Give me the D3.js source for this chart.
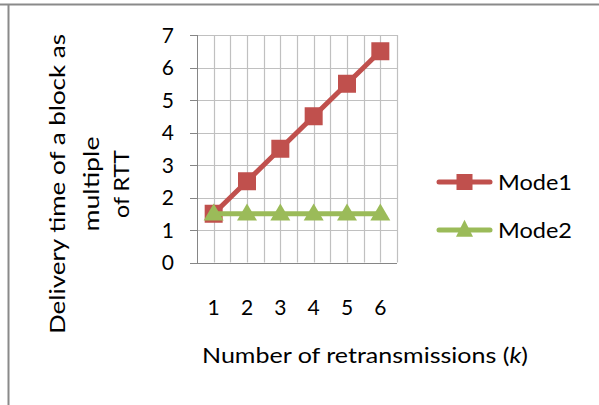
<!DOCTYPE html>
<html><head><meta charset="utf-8">
<script src="https://cdn.jsdelivr.net/npm/d3@7"></script>
<style>html,body{margin:0;padding:0;background:#fff;}svg{display:block;font-family:Lato,"Open Sans",sans-serif;}</style>
</head><body>
<script>
const categories = ["1","2","3","4","5","6"];
const mode1 = [1.5, 2.5, 3.5, 4.5, 5.5, 6.5];
const mode2 = [1.5, 1.5, 1.5, 1.5, 1.5, 1.5];
const yTicks = [0,1,2,3,4,5,6,7];
const seriesNames = ["Mode1","Mode2"];
const yTitleLines = ["Delivery time of a block as","multiple","of RTT"];

const W = 599, H = 405;
const svg = d3.select("body").append("svg").attr("width", W).attr("height", H);

// outer frame (top + left edges visible)
svg.append("line").attr("x1",0).attr("x2",W).attr("y1",4.5).attr("y2",4.5).attr("stroke","#8a8a8a").attr("stroke-width",2);
svg.append("line").attr("x1",8.5).attr("x2",8.5).attr("y1",4).attr("y2",H).attr("stroke","#8a8a8a").attr("stroke-width",2);

const x = d3.scaleBand().domain(categories).range([197, 397]).padding(0);
const y = d3.scaleLinear().domain([0, 7]).range([262.5, 35]);
const bw = x.bandwidth();

// vertical gridlines: band edges and centres
const vPos = [];
categories.forEach(c => { vPos.push(x(c)); vPos.push(x(c) + bw/2); });
vPos.push(x(categories[categories.length-1]) + bw);
svg.append("g").selectAll("line").data(vPos.slice(1)).join("line")
  .attr("x1", d => Math.round(d)+0.5).attr("x2", d => Math.round(d)+0.5)
  .attr("y1", y(7)).attr("y2", y(0))
  .attr("stroke", "#c0c0c0").attr("stroke-width", 1.2);

// horizontal gridlines
svg.append("g").selectAll("line").data(yTicks.filter(d => d > 0)).join("line")
  .attr("x1", 190).attr("x2", 397)
  .attr("y1", d => Math.round(y(d))+0.5).attr("y2", d => Math.round(y(d))+0.5)
  .attr("stroke", "#c0c0c0").attr("stroke-width", 1.2);
// tick stubs left of axis in darker grey
svg.append("g").selectAll("line").data(yTicks).join("line")
  .attr("x1", 190).attr("x2", 197)
  .attr("y1", d => Math.round(y(d))+0.5).attr("y2", d => Math.round(y(d))+0.5)
  .attr("stroke", "#868686").attr("stroke-width", 1);

// axes lines
svg.append("line").attr("x1",197.5).attr("x2",197.5).attr("y1",y(7)).attr("y2",y(0)+0.5).attr("stroke","#868686").attr("stroke-width",1);
svg.append("line").attr("x1",190).attr("x2",397).attr("y1",Math.round(y(0))+0.5).attr("y2",Math.round(y(0))+0.5).attr("stroke","#868686").attr("stroke-width",1);

// y tick labels
svg.append("g").selectAll("text").data(yTicks).join("text")
  .attr("x", 174).attr("y", d => y(d)).attr("text-anchor","end")
  .attr("dy","0.36em").attr("font-size",21).attr("fill","#000").text(d => d);

// x tick labels
svg.append("g").selectAll("text").data(categories).join("text")
  .attr("x", d => x(d) + bw/2).attr("y", 315).attr("text-anchor","middle")
  .attr("font-size",21).attr("fill","#000").text(d => d);

// y title (three centred lines, rotated)
const yLineX = [58, 92, 122];
const yLineLen = [300, 95, 68];
yTitleLines.forEach((t, i) => {
  svg.append("text")
    .attr("transform", `translate(${yLineX[i]+7},184) rotate(-90)`)
    .attr("text-anchor","middle").attr("font-size",21).attr("fill","#000")
    .attr("textLength", yLineLen[i]).attr("lengthAdjust","spacingAndGlyphs")
    .text(t);
});

// x title
const xt = svg.append("text").attr("x", 202).attr("y", 363)
  .attr("font-size",21).attr("fill","#000")
  .attr("textLength", 326).attr("lengthAdjust","spacingAndGlyphs");
xt.append("tspan").text("Number of retransmissions (");
xt.append("tspan").attr("font-style","italic").text("k");
xt.append("tspan").text(")");

const red = "#C0504D", green = "#9BBB59";
const line = d3.line().x((d,i) => x(categories[i]) + bw/2).y(d => y(d));

function squareAt(g, cx, cy, s, col) {
  g.append("rect").attr("x", cx - s/2).attr("y", cy - s/2).attr("width", s).attr("height", s).attr("fill", col);
}
function triAt(g, cx, cy, w, h, col) {
  g.append("path").attr("d", `M${cx},${cy - h*0.6}L${cx + w/2},${cy + h*0.4}L${cx - w/2},${cy + h*0.4}Z`).attr("fill", col);
}

const g1 = svg.append("g");
g1.append("path").datum(mode1).attr("d", line).attr("fill","none").attr("stroke",red).attr("stroke-width",5).attr("stroke-linejoin","round");
mode1.forEach((v,i) => squareAt(g1, x(categories[i]) + bw/2, y(v), 18, red));

const g2 = svg.append("g");
g2.append("path").datum(mode2).attr("d", line).attr("fill","none").attr("stroke",green).attr("stroke-width",5).attr("stroke-linejoin","round");
mode2.forEach((v,i) => triAt(g2, x(categories[i]) + bw/2, y(v), 20, 17, green));

// legend
const legY = [182, 230];
const legCols = [red, green];
seriesNames.forEach((name, i) => {
  const lg = svg.append("g");
  lg.append("line").attr("x1",439).attr("x2",490).attr("y1",legY[i]).attr("y2",legY[i])
    .attr("stroke",legCols[i]).attr("stroke-width",5).attr("stroke-linecap","round");
  if (i === 0) squareAt(lg, 464.5, legY[i], 16, red);
  else triAt(lg, 464.5, legY[i], 17, 17, green);
  lg.append("text").attr("x", 498).attr("y", legY[i]).attr("dy","0.36em")
    .attr("font-size",21).attr("fill","#000")
    .attr("textLength", 74).attr("lengthAdjust","spacingAndGlyphs").text(name);
});
</script>
</body></html>
